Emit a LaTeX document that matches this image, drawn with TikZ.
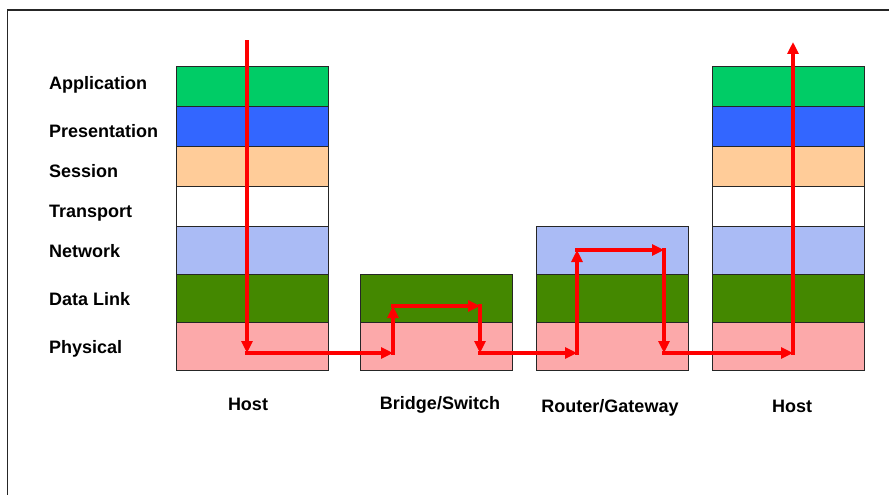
\documentclass[tikz,border=0pt]{standalone}
\usepackage{fontspec}
\setmainfont{Liberation Sans}
\usetikzlibrary{arrows.meta}
\definecolor{appc}{HTML}{00CC66}
\definecolor{presc}{HTML}{3366FF}
\definecolor{sessc}{HTML}{FFCC99}
\definecolor{transc}{HTML}{FFFFFF}
\definecolor{netc}{HTML}{AABBF5}
\definecolor{linkc}{HTML}{448800}
\definecolor{physc}{HTML}{FCA9AA}
\definecolor{flowc}{HTML}{FF0000}
\begin{document}
\begin{tikzpicture}[x=1pt,y=-1pt,
  layer/.style={draw=black!85, line width=0.9pt, anchor=north west,
    minimum width=152pt, inner sep=0pt, outer sep=0pt},
  lname/.style={anchor=base west, inner sep=0pt, font=\fontsize{18}{21}\selectfont\bfseries},
  dname/.style={anchor=base, inner sep=0pt, font=\fontsize{18}{21}\selectfont\bfseries},
  flow/.style={draw=flowc, line width=3.5pt, line cap=rect,
    -{Triangle[length=12pt,width=11pt]}}]
\useasboundingbox (0,0) rectangle (889,495);
\fill[white] (0,0) rectangle (889,495);
\draw[black!85, line width=1.2pt] (7.5,495) -- (7.5,10) -- (889,10);

% full seven-layer stacks for the two end hosts
\foreach \nm/\x in {hostA/176, hostB/712} {
  \node[layer, fill=appc,   minimum height=40pt] (\nm-app)   at (\x,66)  {};
  \node[layer, fill=presc,  minimum height=40pt] (\nm-pres)  at (\x,106) {};
  \node[layer, fill=sessc,  minimum height=40pt] (\nm-sess)  at (\x,146) {};
  \node[layer, fill=transc, minimum height=40pt] (\nm-trans) at (\x,186) {};
  \node[layer, fill=netc,   minimum height=48pt] (\nm-net)   at (\x,226) {};
  \node[layer, fill=linkc,  minimum height=48pt] (\nm-link)  at (\x,274) {};
  \node[layer, fill=physc,  minimum height=48pt] (\nm-phys)  at (\x,322) {};
}
% bridge: two lower layers
\node[layer, fill=linkc, minimum height=48pt] (br-link) at (360,274) {};
\node[layer, fill=physc, minimum height=48pt] (br-phys) at (360,322) {};
% router: three lower layers
\node[layer, fill=netc,  minimum height=48pt] (rt-net)  at (536,226) {};
\node[layer, fill=linkc, minimum height=48pt] (rt-link) at (536,274) {};
\node[layer, fill=physc, minimum height=48pt] (rt-phys) at (536,322) {};

% layer names (placed by baseline)
\node[lname] (n-app)   at (49,89)  {Application};
\node[lname] (n-pres)  at (49,137) {Presentation};
\node[lname] (n-sess)  at (49,177) {Session};
\node[lname] (n-trans) at (49,217) {Transport};
\node[lname] (n-net)   at (49,257) {Network};
\node[lname] (n-link)  at (49,305) {Data Link};
\node[lname] (n-phys)  at (49,353) {Physical};

% device names (placed by baseline)
\node[dname] (d-hostA)  at (248,410) {Host};
\node[dname] (d-bridge) at (440,409) {Bridge/Switch};
\node[dname] (d-router) at (610,412.5) {Router/Gateway};
\node[dname] (d-hostB)  at (792,412.5) {Host};

% data path through the devices
\coordinate (p0)  at (247,42);
\coordinate (p1)  at (247,353);
\coordinate (p2)  at (393,353);
\coordinate (p3)  at (393,306);
\coordinate (p4)  at (480,306);
\coordinate (p5)  at (480,353);
\coordinate (p6)  at (577,353);
\coordinate (p7)  at (577,250);
\coordinate (p8)  at (664,250);
\coordinate (p9)  at (664,353);
\coordinate (p10) at (793,353);
\coordinate (p11) at (793,42);
\foreach \a/\b in {p0/p1,p1/p2,p2/p3,p3/p4,p4/p5,p5/p6,p6/p7,p7/p8,p8/p9,p9/p10,p10/p11}
  \draw[flow] (\a) -- (\b);
\end{tikzpicture}
\end{document}
